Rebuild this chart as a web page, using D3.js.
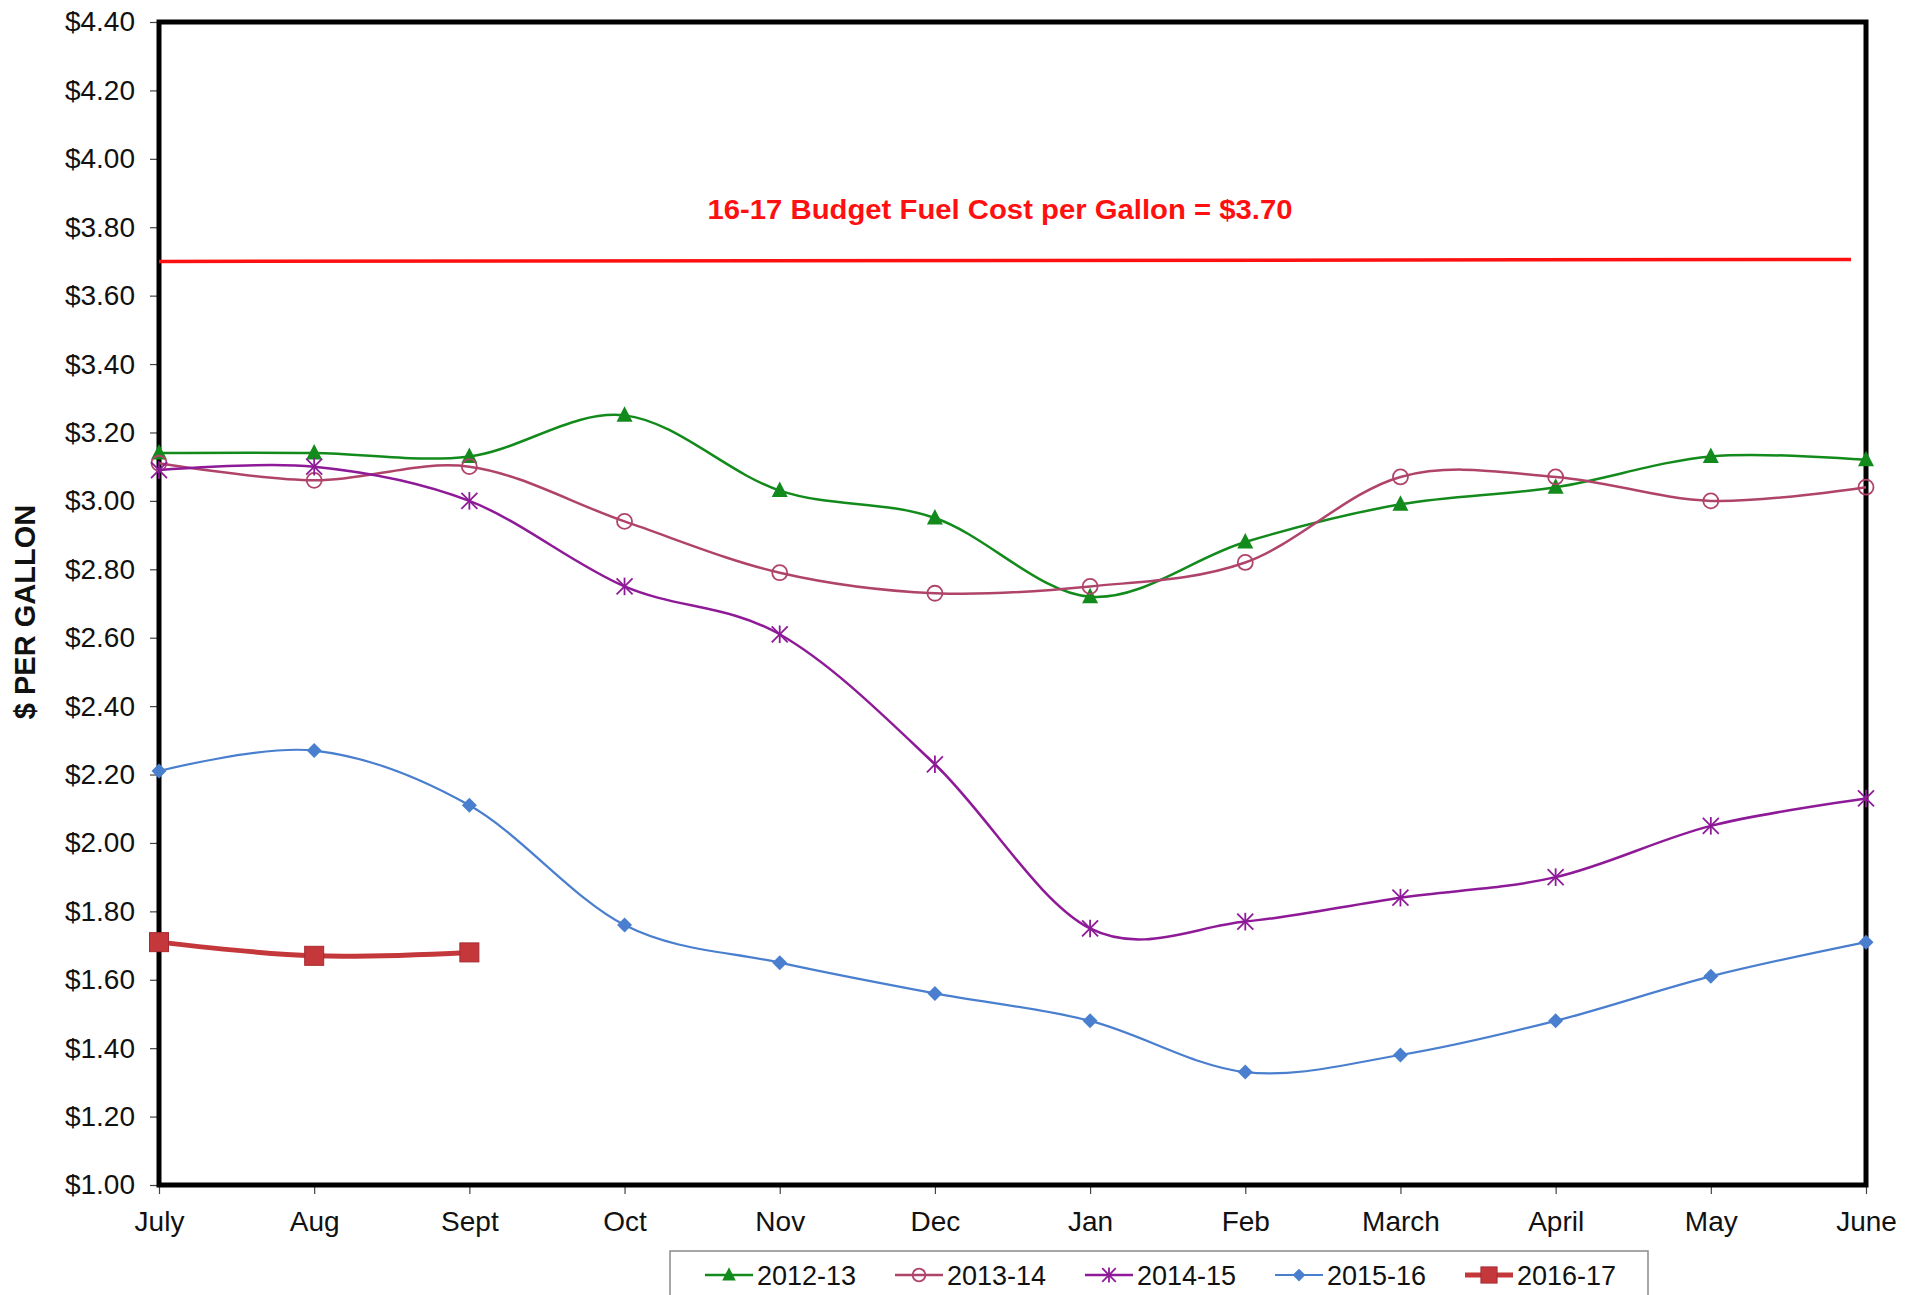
<!DOCTYPE html>
<html>
<head>
<meta charset="utf-8">
<script src="https://cdn.jsdelivr.net/npm/d3@7"></script>
<style>
  html, body { margin: 0; padding: 0; background: #fff; }
  svg { display: block; font-family: "Liberation Sans", Arial, sans-serif; }
</style>
</head>
<body>
<svg id="chart" width="1916" height="1295"></svg>
<script>
// Monthly fuel cost per gallon, fiscal years July–June
const months = ["July", "Aug", "Sept", "Oct", "Nov", "Dec", "Jan", "Feb", "March", "April", "May", "June"];
const fy2012_13 = [3.14, 3.14, 3.13, 3.25, 3.03, 2.95, 2.72, 2.88, 2.99, 3.04, 3.13, 3.12];
const fy2013_14 = [3.11, 3.06, 3.10, 2.94, 2.79, 2.73, 2.75, 2.82, 3.07, 3.07, 3.00, 3.04];
const fy2014_15 = [3.09, 3.10, 3.00, 2.75, 2.61, 2.23, 1.75, 1.77, 1.84, 1.90, 2.05, 2.13];
const fy2015_16 = [2.21, 2.27, 2.11, 1.76, 1.65, 1.56, 1.48, 1.33, 1.38, 1.48, 1.61, 1.71];
const fy2016_17 = [1.71, 1.67, 1.68];
const yTicks = [1.0, 1.2, 1.4, 1.6, 1.8, 2.0, 2.2, 2.4, 2.6, 2.8, 3.0, 3.2, 3.4, 3.6, 3.8, 4.0, 4.2, 4.4];
const budgetValue = 3.70;
const budgetLabel = "16-17 Budget Fuel Cost per Gallon = $3.70";

const seriesList = [
  { name: "2012-13", values: fy2012_13, color: "#138a1c", width: 2.5, marker: "triangle" },
  { name: "2013-14", values: fy2013_14, color: "#b0436a", width: 2.5, marker: "circle" },
  { name: "2014-15", values: fy2014_15, color: "#8e1a98", width: 2.5, marker: "star" },
  { name: "2015-16", values: fy2015_16, color: "#4a7fcf", width: 2.2, marker: "diamond" },
  { name: "2016-17", values: fy2016_17, color: "#c4383c", width: 5, marker: "square" }
];

const svg = d3.select("#chart");
const margin = { top: 22, left: 159 };
const plotW = 1866 - margin.left;
const plotH = 1185 - margin.top;

const g = svg.append("g").attr("transform", `translate(${margin.left},${margin.top})`);

const x = d3.scalePoint().domain(months).range([0, plotW]);
const y = d3.scaleLinear().domain([1.0, 4.4]).range([plotH, 0]);

// Y axis
const yAxis = g.append("g")
  .call(d3.axisLeft(y).tickValues(yTicks).tickFormat(d => "$" + d.toFixed(2)).tickSize(9).tickPadding(15));
yAxis.select(".domain").remove();
yAxis.selectAll("line").attr("stroke", "#444").attr("stroke-width", 1.2);
yAxis.selectAll("text").attr("font-size", 28).attr("fill", "#111");

// X axis
const xAxis = g.append("g").attr("transform", `translate(0,${plotH})`)
  .call(d3.axisBottom(x).tickSize(9).tickPadding(17));
xAxis.select(".domain").remove();
xAxis.selectAll("line").attr("stroke", "#444").attr("stroke-width", 1.2);
xAxis.selectAll("text").attr("font-size", 28).attr("fill", "#111");

// Plot frame
g.append("rect")
  .attr("x", 0).attr("y", 0).attr("width", plotW).attr("height", plotH)
  .attr("fill", "none").attr("stroke", "#000").attr("stroke-width", 5);

// Budget reference line
g.append("line")
  .attr("x1", x("July")).attr("x2", x("June") - 15)
  .attr("y1", y(budgetValue)).attr("y2", y(budgetValue) - 2)
  .attr("stroke", "#ff1010").attr("stroke-width", 3.5);

g.append("text")
  .attr("x", 1000 - margin.left).attr("y", y(budgetValue) - 42)
  .attr("text-anchor", "middle")
  .attr("font-size", 28).attr("font-weight", "bold").attr("fill", "#ff1010")
  .attr("textLength", 585).attr("lengthAdjust", "spacingAndGlyphs")
  .text(budgetLabel);

// Marker shapes
function drawMarker(sel, type, color, cx, cy, scale) {
  const s = scale || 1;
  if (type === "triangle") {
    sel.append("path")
      .attr("d", `M${cx},${cy - 9 * s} L${cx + 8 * s},${cy + 6.5 * s} L${cx - 8 * s},${cy + 6.5 * s} Z`)
      .attr("fill", color);
  } else if (type === "circle") {
    sel.append("circle").attr("cx", cx).attr("cy", cy).attr("r", 7.5 * s)
      .attr("fill", "none").attr("stroke", color).attr("stroke-width", 1.8);
  } else if (type === "star") {
    const r = 8 * s;
    const p = [
      [cx - r, cy - r, cx + r, cy + r],
      [cx - r, cy + r, cx + r, cy - r],
      [cx, cy - r * 1.1, cx, cy + r * 1.1]
    ];
    p.forEach(q => sel.append("line")
      .attr("x1", q[0]).attr("y1", q[1]).attr("x2", q[2]).attr("y2", q[3])
      .attr("stroke", color).attr("stroke-width", 1.8));
  } else if (type === "diamond") {
    const r = 7.5 * s;
    sel.append("path")
      .attr("d", `M${cx},${cy - r} L${cx + r},${cy} L${cx},${cy + r} L${cx - r},${cy} Z`)
      .attr("fill", color);
  } else if (type === "square") {
    const r = 9.5 * s;
    sel.append("rect").attr("x", cx - r).attr("y", cy - r).attr("width", 2 * r).attr("height", 2 * r)
      .attr("fill", color).attr("stroke", "#a82a30").attr("stroke-width", 1);
  }
}

// Smoothed series lines
const line = d3.line()
  .x((d, i) => x(months[i]))
  .y(d => y(d))
  .curve(d3.curveCardinal.tension(0));

seriesList.forEach(s => {
  const sg = g.append("g");
  sg.append("path")
    .attr("d", line(s.values))
    .attr("fill", "none")
    .attr("stroke", s.color)
    .attr("stroke-width", s.width);
  s.values.forEach((v, i) => drawMarker(sg, s.marker, s.color, x(months[i]), y(v)));
});

// Y axis title
svg.append("text")
  .attr("transform", `translate(35,612) rotate(-90)`)
  .attr("text-anchor", "middle")
  .attr("font-size", 29).attr("font-weight", "bold").attr("fill", "#111")
  .text("$ PER GALLON");

// Legend
const legend = svg.append("g").attr("transform", "translate(670,1251)");
legend.append("rect").attr("x", 0).attr("y", 0).attr("width", 978).attr("height", 60)
  .attr("fill", "#fff").attr("stroke", "#8a8a8a").attr("stroke-width", 1.5);
seriesList.forEach((s, i) => {
  const lx = 35 + i * 190;
  const ly = 24;
  const it = legend.append("g");
  it.append("line").attr("x1", lx).attr("x2", lx + 48).attr("y1", ly).attr("y2", ly)
    .attr("stroke", s.color).attr("stroke-width", s.width);
  drawMarker(it, s.marker, s.color, lx + 24, ly, 0.85);
  it.append("text").attr("x", lx + 52).attr("y", ly + 10)
    .attr("font-size", 27).attr("fill", "#111").text(s.name);
});
</script>
</body>
</html>
